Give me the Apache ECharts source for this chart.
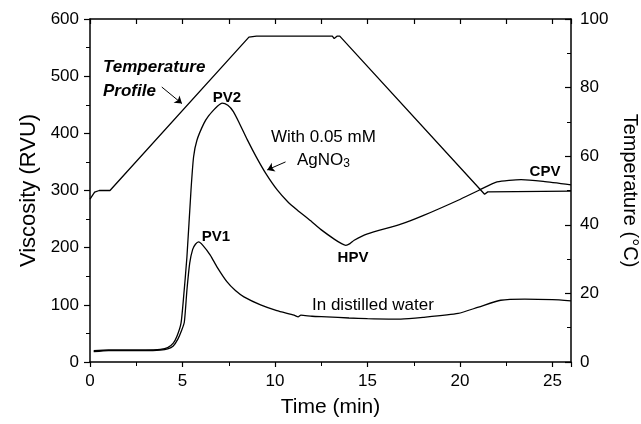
<!DOCTYPE html>
<html>
<head>
<meta charset="utf-8">
<script src="https://cdn.jsdelivr.net/npm/echarts@6/dist/echarts.min.js"></script>
<style>
html, body { margin: 0; padding: 0; background: #fff; }
#chart { width: 641px; height: 424px; }
</style>
</head>
<body>
<div id="chart"></div>
<script>
// time (min) , viscosity (RVU)
var agno3 = [
	[0.2, 20], [1, 21], [2, 21], [3, 21], [3.8, 22], [4.2, 25], [4.5, 33], [4.7, 45],
	[4.92, 68], [5.05, 110], [5.24, 184], [5.46, 301], [5.6, 359], [5.78, 388],
	[6.15, 417], [6.4, 430], [6.69, 441], [6.9, 448], [7.14, 453], [7.45, 449],
	[7.75, 438], [8.1, 416], [8.5, 389], [9.0, 358], [9.5, 330], [10.12, 301],
	[10.7, 280], [11.2, 266], [12, 245], [12.47, 232], [13.2, 215], [13.6, 207],
	[13.83, 204], [14.05, 207], [14.28, 213], [15, 224], [16.8, 241], [18, 256],
	[19.9, 283], [21, 300], [22, 315], [23.3, 319], [24.5, 316], [26, 310]
];
var water = [
	[0.2, 18], [1, 20], [2, 20], [3, 20], [3.8, 21], [4.2, 23], [4.5, 28], [4.75, 40],
	[4.95, 55], [5.1, 70], [5.24, 126], [5.39, 173], [5.55, 197], [5.7, 206],
	[5.87, 210], [6.1, 204], [6.5, 187], [6.87, 166], [7.41, 140], [7.86, 125],
	[8.32, 114], [9.22, 100], [10.1, 90], [11.03, 82], [11.25, 79], [11.4, 82],
	[12, 80], [12.8, 79], [14, 77], [15, 76], [16.8, 75], [18, 78], [19.9, 85],
	[21, 96], [22.2, 108], [23.5, 110], [25, 109], [26, 107]
];
// time (min) , temperature (°C)
var temperature = [
	[0, 47.5], [0.25, 49.5], [0.5, 50], [1.08, 50], [8.59, 94.7], [9, 95],
	[13.1, 95], [13.2, 94.3], [13.35, 95], [13.5, 95], [21.33, 48.9], [21.5, 49.6],
	[26, 49.8]
];
// annotation arrows, in time / RVU
var arrows = [
	[[3.88, 481], [4.97, 452]],
	[[10.57, 350], [9.58, 336]]
];

var font = 'Liberation Sans, Arial, sans-serif';
var black = '#000';

var chart = echarts.init(document.getElementById('chart'));

var option = {
	animation: false,
	backgroundColor: '#fff',
	grid: {left: 90, right: 70, top: 19, bottom: 62, containLabel: false, outerBoundsMode: 'none'},
	xAxis: [
		{
			type: 'value', min: 0, max: 26, interval: 5,
			name: 'Time (min)', nameLocation: 'middle', nameGap: 35,
			nameTextStyle: {fontFamily: font, fontSize: 21, color: black},
			axisLine: {onZero: false, lineStyle: {color: black, width: 1.5}},
			axisTick: {inside: false, length: 5, lineStyle: {color: black, width: 1.2}},
			minorTick: {show: true, splitNumber: 2, length: 4, lineStyle: {color: black, width: 1}},
			axisLabel: {fontFamily: font, fontSize: 17, color: black, margin: 11,
				formatter: function (v) { return v <= 25 ? v : ''; }},
			splitLine: {show: false}
		},
		{
			type: 'value', min: 0, max: 26, interval: 2.5, position: 'top',
			axisLine: {show: true, onZero: false, lineStyle: {color: black, width: 1.5}},
			axisTick: {show: true, inside: true, length: 5, lineStyle: {color: black, width: 1.2}},
			axisLabel: {show: false},
			splitLine: {show: false}
		}
	],
	yAxis: [
		{
			type: 'value', min: 0, max: 600, interval: 100,
			name: 'Viscosity (RVU)', nameLocation: 'middle', nameGap: 50,
			nameTextStyle: {fontFamily: font, fontSize: 22, color: black},
			axisLine: {show: true, onZero: false, lineStyle: {color: black, width: 1.5}},
			axisTick: {show: true, inside: false, length: 6, lineStyle: {color: black, width: 1.2}},
			minorTick: {show: true, splitNumber: 2, length: 4, lineStyle: {color: black, width: 1}},
			axisLabel: {fontFamily: font, fontSize: 17, color: black, margin: 11},
			splitLine: {show: false}
		},
		{
			type: 'value', min: 0, max: 100, interval: 20, position: 'right',
			name: 'Temperature (°C)', nameLocation: 'middle', nameGap: 39, nameRotate: -90,
			nameTextStyle: {fontFamily: font, fontSize: 20, color: black},
			axisLine: {show: true, onZero: false, lineStyle: {color: black, width: 1.5}},
			axisTick: {show: true, inside: true, length: 6, lineStyle: {color: black, width: 1.2}},
			minorTick: {show: true, splitNumber: 2, length: 4, lineStyle: {color: black, width: 1}},
			axisLabel: {fontFamily: font, fontSize: 17, color: black, margin: 9},
			splitLine: {show: false}
		}
	],
	series: [
		{
			name: 'AgNO3', type: 'line', data: agno3, showSymbol: false, smooth: 0.2,
			lineStyle: {color: black, width: 1.3},
			markLine: {
				silent: true, symbol: ['none', 'arrow'], symbolSize: 7,
				label: {show: false},
				lineStyle: {color: black, width: 1, type: 'solid'},
				data: arrows.map(function (a) {
					return [{coord: a[0]}, {coord: a[1]}];
				})
			}
		},
		{
			name: 'water', type: 'line', data: water, showSymbol: false, smooth: 0.2,
			lineStyle: {color: black, width: 1.3}
		},
		{
			name: 'temperature', type: 'line', yAxisIndex: 1, data: temperature,
			showSymbol: false, lineStyle: {color: black, width: 1.3}
		}
	],
	graphic: [
		{type: 'text', x: 103, y: 67, style: {text: 'Temperature', font: 'italic bold 17px ' + font, fill: black, textVerticalAlign: 'middle'}},
		{type: 'text', x: 103, y: 91, style: {text: 'Profile', font: 'italic bold 17px ' + font, fill: black, textVerticalAlign: 'middle'}},
		{type: 'text', x: 227, y: 98, style: {text: 'PV2', font: 'bold 15px ' + font, fill: black, textAlign: 'center', textVerticalAlign: 'middle'}},
		{type: 'text', x: 216, y: 237, style: {text: 'PV1', font: 'bold 15px ' + font, fill: black, textAlign: 'center', textVerticalAlign: 'middle'}},
		{type: 'text', x: 353, y: 258, style: {text: 'HPV', font: 'bold 15px ' + font, fill: black, textAlign: 'center', textVerticalAlign: 'middle'}},
		{type: 'text', x: 545, y: 172, style: {text: 'CPV', font: 'bold 15px ' + font, fill: black, textAlign: 'center', textVerticalAlign: 'middle'}},
		{type: 'text', x: 271, y: 137, style: {text: 'With 0.05 mM', font: '17px ' + font, fill: black, textVerticalAlign: 'middle'}},
		{type: 'text', x: 297, y: 160, style: {
			text: '{a|AgNO}{b|3}', fill: black,
			rich: {
				a: {fontFamily: font, fontSize: 17, color: black},
				b: {fontFamily: font, fontSize: 12, color: black, padding: [8, 0, 0, 0]}
			},
			textVerticalAlign: 'middle'
		}},
		{type: 'text', x: 312, y: 305, style: {text: 'In distilled water', font: '17px ' + font, fill: black, textVerticalAlign: 'middle'}}
	]
};

chart.setOption(option);
</script>
</body>
</html>
